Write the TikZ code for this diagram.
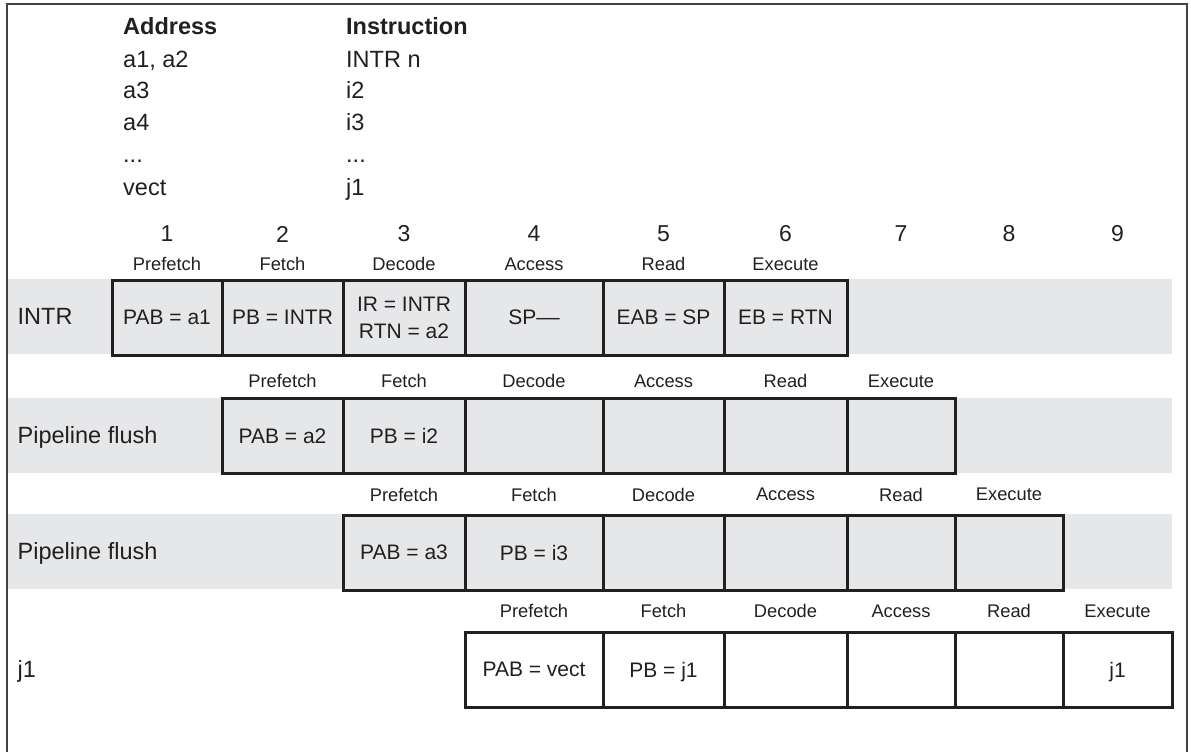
\documentclass[tikz,border=0pt]{standalone}
\usepackage{fontspec}
\setmainfont{Liberation Sans}
\definecolor{band}{HTML}{E6E7E8}
\definecolor{ink}{HTML}{231F20}
\begin{document}
\begin{tikzpicture}[x=1pt,y=-1pt,
  cell/.style={draw=ink, line width=3pt, minimum height=75pt, inner sep=0pt,
    font=\fontsize{21}{27}\selectfont, align=center, text=ink, text depth=0pt},
  greycell/.style={cell, fill=band},
  whitecell/.style={cell, fill=white},
  stage/.style={font=\fontsize{18.3}{21}\selectfont, text=ink, inner sep=0pt},
  num/.style={font=\fontsize{23}{26}\selectfont, text=ink, inner sep=0pt},
  tab/.style={font=\fontsize{23.5}{27}\selectfont, text=ink, anchor=base west, inner sep=0pt},
  tabhead/.style={tab, font=\fontsize{23.5}{27}\selectfont\bfseries},
  rowlab/.style={font=\fontsize{23.5}{27}\selectfont, text=ink, anchor=base west, inner sep=0pt},
  frame/.style={draw=ink!85, line width=2pt}]
\useasboundingbox (0,0) rectangle (1191,752);
% grey bands
\fill[band] (8,279) rectangle (1172,354);
\fill[band] (8,398) rectangle (1172,473);
\fill[band] (8,514) rectangle (1172,589);
% frame (open at the bottom)
\draw[frame] (7,752) -- (7,4) -- (1187,4) -- (1187,752);

% address / instruction table
\node[tabhead] (hA) at (123,35) {Address};
\node[tabhead] (hI) at (346,35) {Instruction};
\node[tab] (tA1) at (123,67) {a1, a2};
\node[tab] (tI1) at (346,67) {INTR n};
\node[tab] (tA2) at (123,98) {a3};
\node[tab] (tI2) at (346,98) {i2};
\node[tab] (tA3) at (123,130) {a4};
\node[tab] (tI3) at (346,130) {i3};
\node[tab] (tA4) at (123,162) {...};
\node[tab] (tI4) at (346,162) {...};
\node[tab] (tA5) at (123,195) {vect};
\node[tab] (tI5) at (346,195) {j1};

% column numbers
\foreach \n/\cx in {1/167,2/282.5,3/404,4/534,5/663.5,6/785.5,7/901,8/1009,9/1117.5}
  \node[num] (n\n) at (\cx,234) {\n};

% row labels
\node[rowlab] (lab1) at (17.5,324) {INTR};
\node[rowlab] (lab2) at (17.5,443) {Pipeline flush};
\node[rowlab] (lab3) at (17.5,559) {Pipeline flush};
\node[rowlab] (lab4) at (17.5,677) {j1};

% row 1
\node[greycell, minimum width=110pt] (r1c1) at (167,317.5) {PAB = a1};
\node[greycell, minimum width=121pt] (r1c2) at (282.5,317.5) {PB = INTR};
\node[greycell, minimum width=122pt] (r1c3) at (404,317.5) {IR = INTR\\RTN = a2};
\node[greycell, minimum width=138pt] (r1c4) at (534,317.5) {SP–{}–};
\node[greycell, minimum width=121pt] (r1c5) at (663.5,317.5) {EAB = SP};
\node[greycell, minimum width=123pt] (r1c6) at (785.5,317.5) {EB = RTN};
% row 2
\node[greycell, minimum width=121pt] (r2c1) at (282.5,436) {PAB = a2};
\node[greycell, minimum width=122pt] (r2c2) at (404,436) {PB = i2};
\node[greycell, minimum width=138pt] (r2c3) at (534,436) {};
\node[greycell, minimum width=121pt] (r2c4) at (663.5,436) {};
\node[greycell, minimum width=123pt] (r2c5) at (785.5,436) {};
\node[greycell, minimum width=108pt] (r2c6) at (901,436) {};
% row 3
\node[greycell, minimum width=122pt] (r3c1) at (404,552.5) {PAB = a3};
\node[greycell, minimum width=138pt] (r3c2) at (534,552.5) {PB = i3};
\node[greycell, minimum width=121pt] (r3c3) at (663.5,552.5) {};
\node[greycell, minimum width=123pt] (r3c4) at (785.5,552.5) {};
\node[greycell, minimum width=108pt] (r3c5) at (901,552.5) {};
\node[greycell, minimum width=108pt] (r3c6) at (1009,552.5) {};
% row 4
\node[whitecell, minimum width=138pt] (r4c1) at (534,669.5) {PAB = vect};
\node[whitecell, minimum width=121pt] (r4c2) at (663.5,669.5) {PB = j1};
\node[whitecell, minimum width=123pt] (r4c3) at (785.5,669.5) {};
\node[whitecell, minimum width=108pt] (r4c4) at (901,669.5) {};
\node[whitecell, minimum width=108pt] (r4c5) at (1009,669.5) {};
\node[whitecell, minimum width=109pt] (r4c6) at (1117.5,669.5) {j1};

% stage labels
\foreach \r/\y/\a/\b/\c/\d/\e/\f in {
  1/264/167/282.5/404/534/663.5/785.5,
  2/381/282.5/404/534/663.5/785.5/901,
  3/494.5/404/534/663.5/785.5/901/1009,
  4/611/534/663.5/785.5/901/1009/1117.5}{
  \node[stage] (s\r c1) at (\a,\y) {Prefetch};
  \node[stage] (s\r c2) at (\b,\y) {Fetch};
  \node[stage] (s\r c3) at (\c,\y) {Decode};
  \node[stage] (s\r c4) at (\d,\y) {Access};
  \node[stage] (s\r c5) at (\e,\y) {Read};
  \node[stage] (s\r c6) at (\f,\y) {Execute};
}
\end{tikzpicture}
\end{document}
